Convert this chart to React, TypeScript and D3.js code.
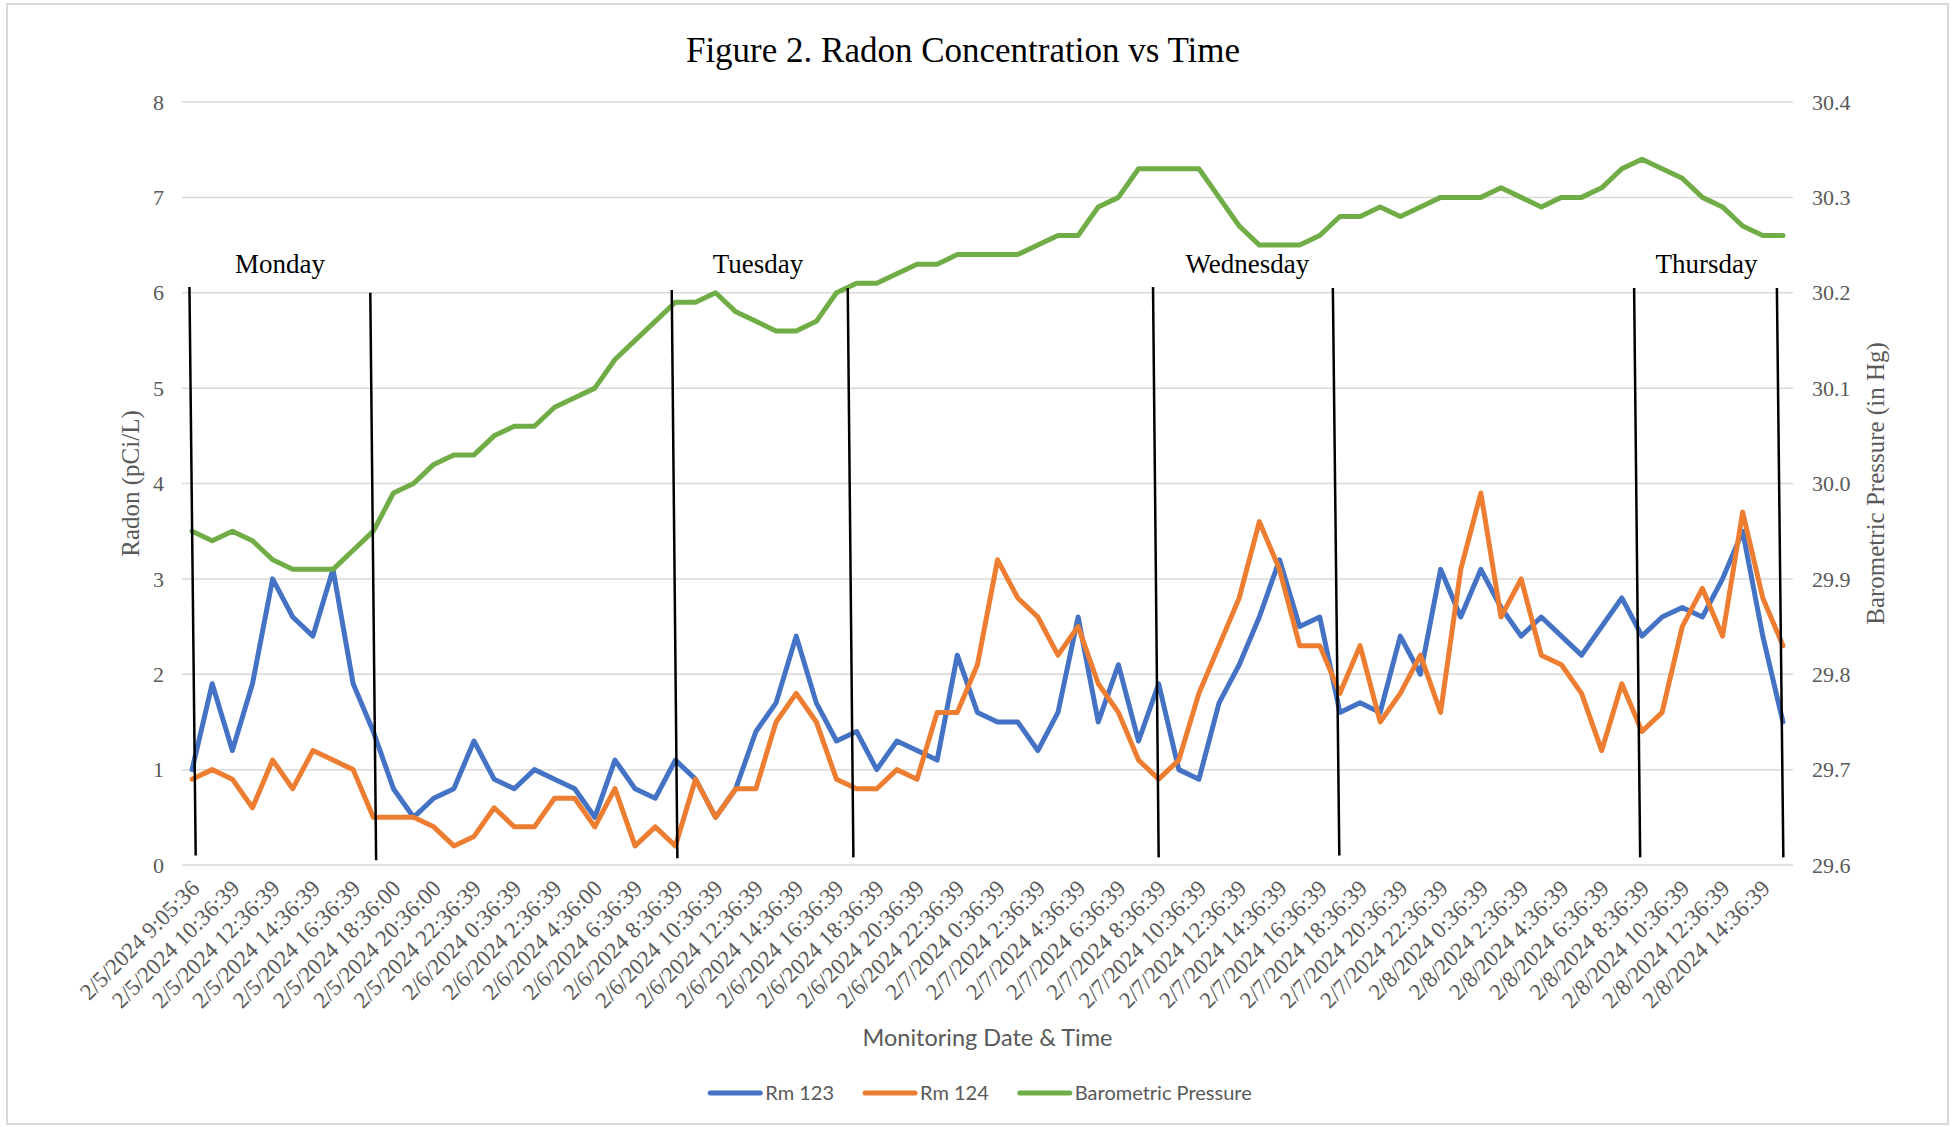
import { useEffect, useRef } from "react";
import * as d3 from "d3";

// hourly readings, 2/5/2024 9:05 through 2/8/2024 15:36
const rm123 = [
  1.0, 1.9, 1.2, 1.9, 3.0, 2.6, 2.4, 3.1, 1.9, 1.4,
  0.8, 0.5, 0.7, 0.8, 1.3, 0.9, 0.8, 1.0, 0.9, 0.8,
  0.5, 1.1, 0.8, 0.7, 1.1, 0.9, 0.5, 0.8, 1.4, 1.7,
  2.4, 1.7, 1.3, 1.4, 1.0, 1.3, 1.2, 1.1, 2.2, 1.6,
  1.5, 1.5, 1.2, 1.6, 2.6, 1.5, 2.1, 1.3, 1.9, 1.0,
  0.9, 1.7, 2.1, 2.6, 3.2, 2.5, 2.6, 1.6, 1.7, 1.6,
  2.4, 2.0, 3.1, 2.6, 3.1, 2.7, 2.4, 2.6, 2.4, 2.2,
  2.5, 2.8, 2.4, 2.6, 2.7, 2.6, 3.0, 3.5, 2.4, 1.5,
];

const rm124 = [
  0.9, 1.0, 0.9, 0.6, 1.1, 0.8, 1.2, 1.1, 1.0, 0.5,
  0.5, 0.5, 0.4, 0.2, 0.3, 0.6, 0.4, 0.4, 0.7, 0.7,
  0.4, 0.8, 0.2, 0.4, 0.2, 0.9, 0.5, 0.8, 0.8, 1.5,
  1.8, 1.5, 0.9, 0.8, 0.8, 1.0, 0.9, 1.6, 1.6, 2.1,
  3.2, 2.8, 2.6, 2.2, 2.5, 1.9, 1.6, 1.1, 0.9, 1.1,
  1.8, 2.3, 2.8, 3.6, 3.1, 2.3, 2.3, 1.8, 2.3, 1.5,
  1.8, 2.2, 1.6, 3.1, 3.9, 2.6, 3.0, 2.2, 2.1, 1.8,
  1.2, 1.9, 1.4, 1.6, 2.5, 2.9, 2.4, 3.7, 2.8, 2.3,
];

const pressure = [
  29.95, 29.94, 29.95, 29.94, 29.92, 29.91, 29.91, 29.91, 29.93, 29.95,
  29.99, 30.0, 30.02, 30.03, 30.03, 30.05, 30.06, 30.06, 30.08, 30.09,
  30.1, 30.13, 30.15, 30.17, 30.19, 30.19, 30.2, 30.18, 30.17, 30.16,
  30.16, 30.17, 30.2, 30.21, 30.21, 30.22, 30.23, 30.23, 30.24, 30.24,
  30.24, 30.24, 30.25, 30.26, 30.26, 30.29, 30.3, 30.33, 30.33, 30.33,
  30.33, 30.3, 30.27, 30.25, 30.25, 30.25, 30.26, 30.28, 30.28, 30.29,
  30.28, 30.29, 30.3, 30.3, 30.3, 30.31, 30.3, 30.29, 30.3, 30.3,
  30.31, 30.33, 30.34, 30.33, 30.32, 30.3, 30.29, 30.27, 30.26, 30.26,
];

// one label for every second reading
const tickLabels = [
  "2/5/2024 9:05:36", "2/5/2024 10:36:39", "2/5/2024 12:36:39", "2/5/2024 14:36:39",
  "2/5/2024 16:36:39", "2/5/2024 18:36:00", "2/5/2024 20:36:00", "2/5/2024 22:36:39",
  "2/6/2024 0:36:39", "2/6/2024 2:36:39", "2/6/2024 4:36:00", "2/6/2024 6:36:39",
  "2/6/2024 8:36:39", "2/6/2024 10:36:39", "2/6/2024 12:36:39", "2/6/2024 14:36:39",
  "2/6/2024 16:36:39", "2/6/2024 18:36:39", "2/6/2024 20:36:39", "2/6/2024 22:36:39",
  "2/7/2024 0:36:39", "2/7/2024 2:36:39", "2/7/2024 4:36:39", "2/7/2024 6:36:39",
  "2/7/2024 8:36:39", "2/7/2024 10:36:39", "2/7/2024 12:36:39", "2/7/2024 14:36:39",
  "2/7/2024 16:36:39", "2/7/2024 18:36:39", "2/7/2024 20:36:39", "2/7/2024 22:36:39",
  "2/8/2024 0:36:39", "2/8/2024 2:36:39", "2/8/2024 4:36:39", "2/8/2024 6:36:39",
  "2/8/2024 8:36:39", "2/8/2024 10:36:39", "2/8/2024 12:36:39", "2/8/2024 14:36:39",
];

const radonTicks = [0, 1, 2, 3, 4, 5, 6, 7, 8];
const pressureTicks = [29.6, 29.7, 29.8, 29.9, 30.0, 30.1, 30.2, 30.3, 30.4];

// hand-drawn day dividers (reading index at top / bottom, radon value at top / bottom)
const dividerTopIdx = [-0.13, 8.85, 23.82, 32.56, 47.72, 56.65, 71.61, 78.7];
const dividerBottomIdx = [0.18, 9.14, 24.1, 32.84, 48.0, 56.97, 71.91, 79.02];
const dividerTopVal = [6.06, 6.0, 6.03, 6.05, 6.06, 6.05, 6.05, 6.05];
const dividerBottomVal = [0.1, 0.05, 0.07, 0.08, 0.08, 0.1, 0.08, 0.08];

const dayNames = ["Monday", "Tuesday", "Wednesday", "Thursday"];
const dayIdx = [4.37, 28.1, 52.4, 75.2];
const dayVal = 6.21;

const seriesNames = ["Rm 123", "Rm 124", "Barometric Pressure"];
const colors = ["#4472C4", "#ED7D31", "#70AD47"];

const serif = "'Liberation Serif', 'Times New Roman', serif";
const sans = "Lato, 'Open Sans', sans-serif";

function App() {
  const ref = useRef(null);

  useEffect(() => {
    const svg = d3.select(ref.current);
    svg.selectAll("*").remove();

    const width = 1958;
    const height = 1127;
    const plot = { left: 182, right: 1793, top: 102, bottom: 865 };

    const x = d3
      .scaleBand()
      .domain(d3.range(rm123.length))
      .range([plot.left, plot.right]);
    const cx = (i) => x(i) + x.bandwidth() / 2;
    const xIdx = d3
      .scaleLinear()
      .domain([0, rm123.length - 1])
      .range([cx(0), cx(rm123.length - 1)]);

    const yL = d3.scaleLinear().domain([0, 8]).range([plot.bottom, plot.top]);
    const yR = d3.scaleLinear().domain([29.6, 30.4]).range([plot.bottom, plot.top]);

    svg
      .append("rect")
      .attr("x", 7)
      .attr("y", 4)
      .attr("width", width - 17)
      .attr("height", height - 7)
      .attr("fill", "#fff")
      .attr("stroke", "#d9d9d9")
      .attr("stroke-width", 2);

    svg
      .append("text")
      .attr("x", 963)
      .attr("y", 62)
      .attr("text-anchor", "middle")
      .attr("font-family", serif)
      .attr("font-size", 35)
      .attr("fill", "#000")
      .text("Figure 2. Radon Concentration vs Time");

    // gridlines
    svg
      .append("g")
      .selectAll("line")
      .data(radonTicks)
      .join("line")
      .attr("x1", plot.left)
      .attr("x2", plot.right)
      .attr("y1", (d) => yL(d))
      .attr("y2", (d) => yL(d))
      .attr("stroke", "#d9d9d9")
      .attr("stroke-width", 1.5);

    svg
      .append("g")
      .selectAll("text")
      .data(radonTicks)
      .join("text")
      .attr("x", 164)
      .attr("y", (d) => yL(d))
      .attr("dy", "0.35em")
      .attr("text-anchor", "end")
      .attr("font-family", serif)
      .attr("font-size", 22)
      .attr("fill", "#595959")
      .text((d) => d);

    svg
      .append("g")
      .selectAll("text")
      .data(pressureTicks)
      .join("text")
      .attr("x", 1812)
      .attr("y", (d) => yR(d))
      .attr("dy", "0.35em")
      .attr("font-family", serif)
      .attr("font-size", 22)
      .attr("fill", "#595959")
      .text((d) => d.toFixed(1));

    svg
      .append("g")
      .selectAll("text")
      .data(tickLabels)
      .join("text")
      .attr("transform", (d, i) => `translate(${cx(i * 2) + 3},${plot.bottom + 19}) rotate(-45)`)
      .attr("dy", "0.35em")
      .attr("text-anchor", "end")
      .attr("font-family", serif)
      .attr("font-size", 23)
      .attr("fill", "#595959")
      .text((d) => d);

    const midY = (plot.top + plot.bottom) / 2;
    svg
      .append("text")
      .attr("transform", `translate(130,${midY}) rotate(-90)`)
      .attr("dy", "0.35em")
      .attr("text-anchor", "middle")
      .attr("font-family", serif)
      .attr("font-size", 25)
      .attr("fill", "#595959")
      .text("Radon (pCi/L)");

    svg
      .append("text")
      .attr("transform", `translate(1875,${midY}) rotate(-90)`)
      .attr("dy", "0.35em")
      .attr("text-anchor", "middle")
      .attr("font-family", serif)
      .attr("font-size", 25)
      .attr("fill", "#595959")
      .text("Barometric Pressure (in Hg)");

    svg
      .append("text")
      .attr("x", (plot.left + plot.right) / 2)
      .attr("y", 1046)
      .attr("text-anchor", "middle")
      .attr("font-family", sans)
      .attr("font-size", 23.5)
      .attr("fill", "#595959")
      .text("Monitoring Date & Time");

    // series
    const lineL = d3
      .line()
      .x((d, i) => cx(i))
      .y((d) => yL(d));
    const lineR = d3
      .line()
      .x((d, i) => cx(i))
      .y((d) => yR(d));

    [rm123, rm124].forEach((s, k) => {
      svg
        .append("path")
        .datum(s)
        .attr("fill", "none")
        .attr("stroke", colors[k])
        .attr("stroke-width", 5)
        .attr("stroke-linejoin", "round")
        .attr("stroke-linecap", "round")
        .attr("d", lineL);
    });
    svg
      .append("path")
      .datum(pressure)
      .attr("fill", "none")
      .attr("stroke", colors[2])
      .attr("stroke-width", 5)
      .attr("stroke-linejoin", "round")
      .attr("stroke-linecap", "round")
      .attr("d", lineR);

    // day annotations
    svg
      .append("g")
      .selectAll("line")
      .data(dividerTopIdx)
      .join("line")
      .attr("x1", (d) => xIdx(d))
      .attr("y1", (d, i) => yL(dividerTopVal[i]))
      .attr("x2", (d, i) => xIdx(dividerBottomIdx[i]))
      .attr("y2", (d, i) => yL(dividerBottomVal[i]))
      .attr("stroke", "#000")
      .attr("stroke-width", 2.5);

    svg
      .append("g")
      .selectAll("text")
      .data(dayNames)
      .join("text")
      .attr("x", (d, i) => xIdx(dayIdx[i]))
      .attr("y", yL(dayVal))
      .attr("text-anchor", "middle")
      .attr("font-family", serif)
      .attr("font-size", 27)
      .attr("fill", "#000")
      .text((d) => d);

    // legend
    const legend = svg.append("g");
    const items = legend
      .selectAll("g")
      .data(seriesNames)
      .join("g");
    items
      .append("line")
      .attr("x1", 0)
      .attr("x2", 50)
      .attr("y1", 0)
      .attr("y2", 0)
      .attr("stroke", (d, i) => colors[i])
      .attr("stroke-width", 5)
      .attr("stroke-linecap", "round");
    items
      .append("text")
      .attr("x", 55)
      .attr("dy", "0.35em")
      .attr("font-family", sans)
      .attr("font-size", 20)
      .attr("fill", "#595959")
      .text((d) => d);

    let offset = 0;
    const widths = [];
    items.each(function () {
      const w = 55 + this.querySelector("text").getComputedTextLength();
      widths.push(w);
    });
    const total = d3.sum(widths) + 31 * (widths.length - 1);
    let start = 981 - total / 2;
    items.attr("transform", (d, i) => {
      const t = `translate(${start + offset},1093)`;
      offset += widths[i] + 31;
      return t;
    });
  }, []);

  return (
    <div>
      <style>{"body{margin:0}"}</style>
      <svg ref={ref} width="1958" height="1127"></svg>
    </div>
  );
}

export default App;
